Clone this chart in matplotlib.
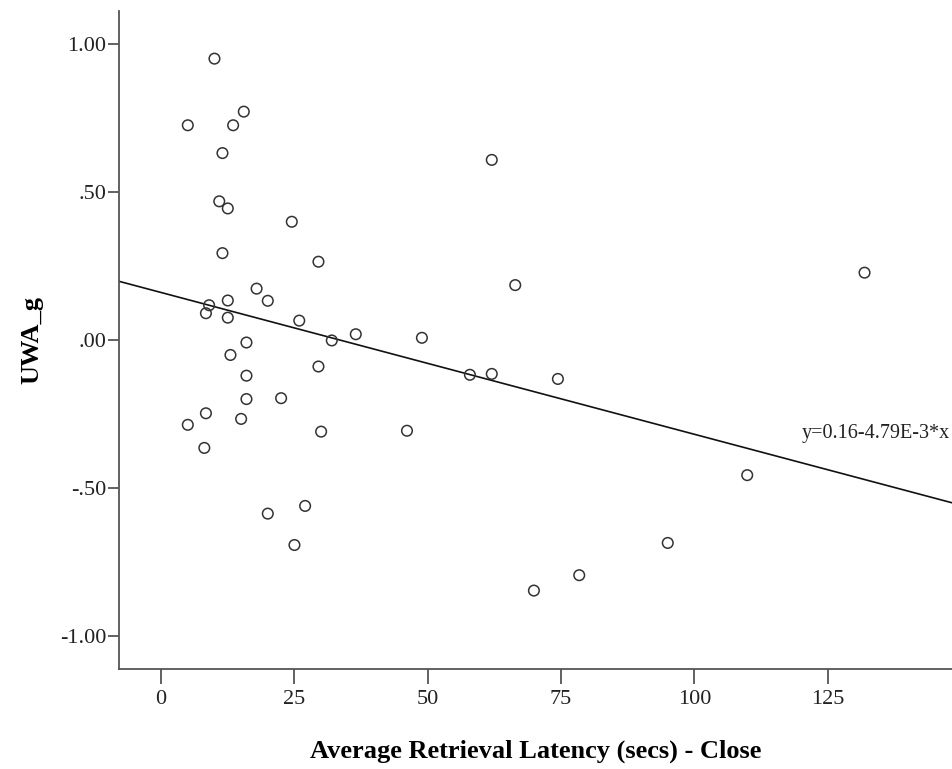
import matplotlib
matplotlib.use("Agg")
import matplotlib.pyplot as plt
import numpy as np

# latency (secs) and UWA_g for each subject
latency = [10.0, 5.0, 13.5, 15.5, 11.5, 10.9, 12.5, 24.5, 11.5, 29.5,
           17.9, 20.0, 12.5, 9.0, 8.4, 12.5, 25.9, 32.0, 36.5, 16.0,
           13.0, 29.5, 16.0, 16.0, 22.5, 8.4, 5.0, 15.0, 30.0, 8.1,
           20.0, 27.0, 25.0, 46.1, 62.0, 66.4, 48.9, 57.9, 62.0, 74.4,
           109.9, 95.0, 78.4, 69.9, 131.9]
uwa_g = [0.950, 0.725, 0.725, 0.771, 0.631, 0.468, 0.444, 0.399, 0.293, 0.264,
         0.173, 0.132, 0.133, 0.117, 0.090, 0.075, 0.065, -0.002, 0.019, -0.009,
         -0.051, -0.090, -0.121, -0.200, -0.197, -0.248, -0.287, -0.267, -0.310, -0.365,
         -0.587, -0.561, -0.693, -0.307, 0.608, 0.185, 0.007, -0.118, -0.115, -0.132,
         -0.457, -0.686, -0.795, -0.847, 0.227]

intercept = 0.16
slope = -4.79e-3
x_ticks = [0, 25, 50, 75, 100, 125]
y_ticks = [-1.0, -0.5, 0.0, 0.5, 1.0]
y_ticklabels = ["-1.00", "-.50", ".00", ".50", "1.00"]

plt.rcParams["font.family"] = ["Liberation Serif", "DejaVu Serif"]

fig = plt.figure(figsize=(9.52, 7.69), dpi=100)
ax = fig.add_axes([0.125, 0.130, 0.875, 0.8557])

ax.scatter(latency, uwa_g, s=58, facecolors="none", edgecolors="#333333",
           linewidths=1.1, zorder=3)

# fit line spans the whole x range
xmin, xmax = -7.9, 148.3
xs = np.array([xmin, xmax])
ax.plot(xs, intercept + slope * xs, color="#111111", lw=1.2, zorder=2)
ax.text(xmax - 0.3, -0.317, "y=0.16-4.79E-3*x", fontsize=14.5,
        ha="right", va="center", color="#222222")

ax.set_xlim(xmin, xmax)
ax.set_ylim(-1.112, 1.111)
ax.set_xticks(x_ticks)
ax.set_yticks(y_ticks)
ax.set_yticklabels(y_ticklabels)

for side in ["top", "right"]:
    ax.spines[side].set_visible(False)
for side in ["left", "bottom"]:
    ax.spines[side].set_color("#555555")
    ax.spines[side].set_linewidth(1.3)

ax.tick_params(axis="x", length=11, width=1.3, color="#555555", pad=4,
               labelsize=16, labelcolor="#222222")
ax.tick_params(axis="y", length=8, width=1.3, color="#555555", pad=1,
               labelsize=16, labelcolor="#222222")

ax.set_xlabel("Average Retrieval Latency (secs) - Close", fontsize=19,
              fontweight="bold", labelpad=22)
ax.set_ylabel("UWA_g", fontsize=19, fontweight="bold", labelpad=12)

fig.savefig("out.png", dpi=100)
